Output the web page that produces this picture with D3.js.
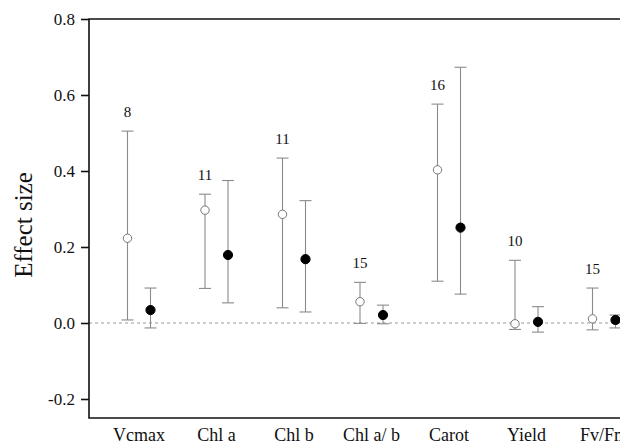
<!DOCTYPE html>
<html>
<head>
<meta charset="utf-8">
<script src="https://cdn.jsdelivr.net/npm/d3@7"></script>
<style>
  html, body { margin: 0; padding: 0; background: #fff; overflow: hidden; }
  #chart { width: 620px; height: 444px; }
</style>
</head>
<body>
<div id="chart"></div>
<script>
// categories and series
const categories = ["Vcmax", "Chl a", "Chl b", "Chl a/ b", "Carot", "Yield", "Fv/Fm"];
const sampleSizes = [8, 11, 11, 15, 16, 10, 15];

const openMean = [0.223, 0.297, 0.286, 0.056, 0.403, -0.002, 0.011];
const openLow = [0.008, 0.091, 0.040, -0.001, 0.110, -0.017, -0.018];
const openHigh = [0.505, 0.339, 0.434, 0.107, 0.576, 0.165, 0.092];

const filledMean = [0.034, 0.179, 0.168, 0.021, 0.251, 0.003, 0.008];
const filledLow = [-0.013, 0.053, 0.029, -0.002, 0.076, -0.024, -0.013];
const filledHigh = [0.092, 0.375, 0.322, 0.047, 0.673, 0.043, 0.021];

const yTicks = [-0.2, 0.0, 0.2, 0.4, 0.6, 0.8];

const W = 620, H = 444;
const plotLeft = 89, plotTop = 19, plotBottom = 418;
const serifFont = '"Liberation Serif"';

const svg = d3.select("#chart")
  .append("svg")
  .attr("width", W)
  .attr("height", H);

const y = d3.scaleLinear().domain([-0.25, 0.8]).range([plotBottom, plotTop]);
const x = d3.scalePoint().domain(categories).range([139, 604]);
const shift = 11.5;

// zero reference line
svg.append("line")
  .attr("x1", plotLeft).attr("x2", W)
  .attr("y1", y(0)).attr("y2", y(0))
  .attr("stroke", "#999")
  .attr("stroke-width", 1)
  .attr("stroke-dasharray", "3,3");

// frame (left, top, bottom)
svg.append("path")
  .attr("d", `M${W},${y(0.8)}H${plotLeft}V${plotBottom}H${W}`)
  .attr("fill", "none")
  .attr("stroke", "#111")
  .attr("stroke-width", 1.6);

// y axis ticks + labels
const yAxis = d3.axisLeft(y)
  .tickValues(yTicks)
  .tickSize(8)
  .tickPadding(6)
  .tickFormat(d => d.toFixed(1));

const ga = svg.append("g")
  .attr("transform", `translate(${plotLeft},0)`)
  .call(yAxis);
ga.select(".domain").remove();
ga.selectAll(".tick line").attr("stroke", "#111").attr("stroke-width", 1.6);
ga.selectAll(".tick text")
  .attr("fill", "#111")
  .style("font-family", serifFont)
  .style("font-size", "17px");

// axis title
svg.append("text")
  .attr("transform", `translate(32,225) rotate(-90)`)
  .attr("text-anchor", "middle")
  .attr("fill", "#111")
  .style("font-family", serifFont)
  .style("font-size", "25px")
  .text("Effect size");

// category labels
svg.selectAll(".cat")
  .data(categories)
  .join("text")
  .attr("class", "cat")
  .attr("x", d => x(d))
  .attr("y", 441)
  .attr("text-anchor", "middle")
  .attr("fill", "#111")
  .style("font-family", serifFont)
  .style("font-size", "18px")
  .text(d => d);

function drawSeries(mean, low, high, dx, filled) {
  const rows = categories.map((c, i) => ({ c, m: mean[i], lo: low[i], hi: high[i] }));
  const g = svg.append("g");
  const cap = 6;

  g.selectAll(".stem").data(rows).join("line")
    .attr("x1", d => x(d.c) + dx).attr("x2", d => x(d.c) + dx)
    .attr("y1", d => y(d.hi)).attr("y2", d => y(d.lo))
    .attr("stroke", "#8a8a8a").attr("stroke-width", 1.1);

  g.selectAll(".capHi").data(rows).join("line")
    .attr("x1", d => x(d.c) + dx - cap).attr("x2", d => x(d.c) + dx + cap)
    .attr("y1", d => y(d.hi)).attr("y2", d => y(d.hi))
    .attr("stroke", "#8a8a8a").attr("stroke-width", 1.1);

  g.selectAll(".capLo").data(rows).join("line")
    .attr("x1", d => x(d.c) + dx - cap).attr("x2", d => x(d.c) + dx + cap)
    .attr("y1", d => y(d.lo)).attr("y2", d => y(d.lo))
    .attr("stroke", "#8a8a8a").attr("stroke-width", 1.1);

  g.selectAll("circle").data(rows).join("circle")
    .attr("cx", d => x(d.c) + dx)
    .attr("cy", d => y(d.m))
    .attr("r", filled ? 4.6 : 4.2)
    .attr("fill", filled ? "#000" : "#fff")
    .attr("stroke", filled ? "#000" : "#777")
    .attr("stroke-width", 1);
}

drawSeries(openMean, openLow, openHigh, -shift, false);
drawSeries(filledMean, filledLow, filledHigh, shift, true);

// sample sizes above the open series
svg.selectAll(".n")
  .data(categories)
  .join("text")
  .attr("class", "n")
  .attr("x", d => x(d) - shift)
  .attr("y", (d, i) => y(openHigh[i]) - 14)
  .attr("text-anchor", "middle")
  .attr("fill", "#111")
  .style("font-family", serifFont)
  .style("font-size", "15px")
  .text((d, i) => sampleSizes[i]);
</script>
</body>
</html>
